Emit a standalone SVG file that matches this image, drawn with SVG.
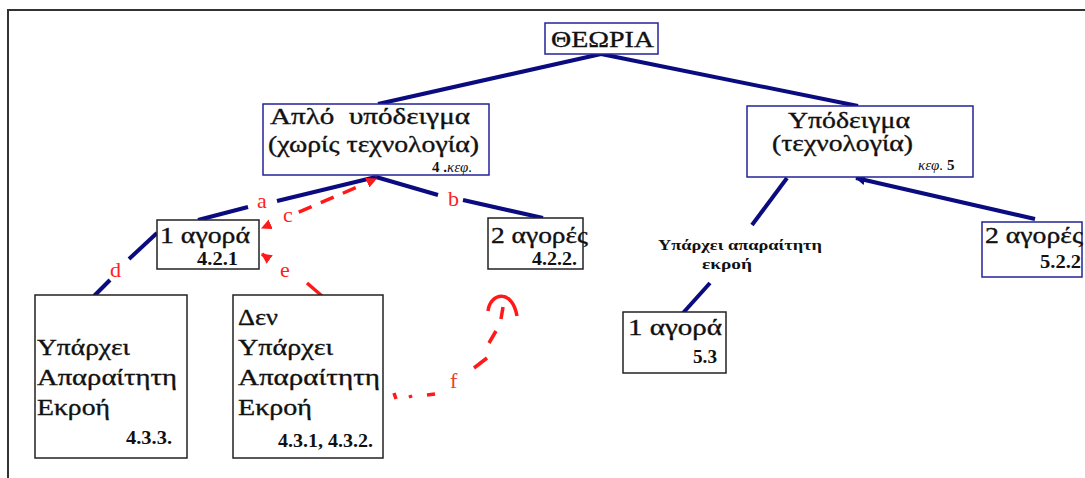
<svg xmlns="http://www.w3.org/2000/svg" width="1085" height="478" viewBox="0 0 1085 478">
  <style>
    .t { font-family: "Liberation Serif", "DejaVu Serif", serif; fill: #111; }
    .big { font-size: 23px; stroke: #111; stroke-width: 0.35; }
    .ref { font-size: 18px; font-weight: bold; }
    .small { font-size: 15px; font-weight: bold; }
    .lbl { font-family: "Liberation Serif", serif; font-size: 22px; fill: #ff2222; }
    .boxb { fill: #fff; stroke: #23239a; stroke-width: 1.5; }
    .boxk { fill: #fff; stroke: #222; stroke-width: 1.5; }
    .edge { stroke: #0b0b80; stroke-width: 4; fill: none; stroke-linecap: butt; }
    .red { stroke: #ff1a1a; stroke-width: 3.5; fill: none; }
  </style>
  <defs>
    <marker id="ah" viewBox="0 0 10 10" refX="9" refY="5" markerWidth="3" markerHeight="3" orient="auto-start-reverse">
      <path d="M0,0 L10,5 L0,10 z" fill="#ff1a1a"/>
    </marker>
    <marker id="ahn" viewBox="0 0 10 10" refX="9" refY="5" markerWidth="2.5" markerHeight="2.5" orient="auto">
      <path d="M0,0 L10,5 L0,10 z" fill="#0b0b80"/>
    </marker>
  </defs>

  <!-- page frame -->
  <rect x="8" y="10" width="1100" height="500" fill="#fff" stroke="#333" stroke-width="2"/>

  <!-- connectors -->
  <g id="connectors">
    <path class="edge" d="M601,54 L378,104"/>
    <path class="edge" d="M601,54 L858,106"/>
    <!-- a -->
    <path class="edge" d="M198,220 L248,207"/>
    <path class="edge" d="M277,201 L376,177"/>
    <!-- b -->
    <path class="edge" d="M376,177 L438,195"/>
    <path class="edge" d="M463,200 L543,218"/>
    <!-- d -->
    <path class="edge" d="M157,233 L129,259"/>
    <path class="edge" d="M110,280 L94,296"/>
    <!-- c -->
    <path class="red" d="M262,228 L376,179" stroke-dasharray="0 40 14 10 14 10 14 10" marker-start="url(#ah)" marker-end="url(#ah)"/>
    <!-- e -->
    <path class="red" d="M262,254 L269,259" marker-start="url(#ah)"/>
    <path class="red" d="M307,283 L322,296"/>
    <!-- f -->
    <path class="red" d="M394,393 L396,399 M410,395 L411,398"/>
    <path class="red" d="M427,395 L435,394" stroke-width="5"/>
    <path class="red" d="M474,368 L487,358" stroke-width="5"/>
    <path class="red" d="M489,343 L496,331" stroke-width="4.5"/>
    <path class="red" d="M501,319 L503,307" stroke-width="4"/>
    <path class="red" d="M488,311 C490,293 512,288 517,316" stroke-width="5"/>
    <!-- right branch -->
    <path class="edge" d="M787,178 L752,225"/>
    <path class="edge" d="M710,283 L683,313"/>
    <path class="edge" d="M1035,219 L856,178" marker-end="url(#ahn)"/>
  </g>

  <!-- edge labels -->
  <g id="edge-labels">
    <text class="lbl" x="257" y="208">a</text>
    <text class="lbl" x="448" y="206">b</text>
    <text class="lbl" x="283" y="222">c</text>
    <text class="lbl" x="110" y="277">d</text>
    <text class="lbl" x="280" y="277">e</text>
    <text class="lbl" x="450" y="388" style="fill:#e8402a">f</text>
  </g>

  <g id="theoria">
    <rect class="boxb" x="545" y="23" width="113" height="31"/>
    <text class="t big" x="551" y="47" textLength="103" lengthAdjust="spacingAndGlyphs">ΘΕΩΡΙΑ</text>
  </g>

  <g id="simple-model">
    <rect class="boxb" x="263" y="104" width="226" height="71"/>
    <text class="t big" x="270" y="124" textLength="200" lengthAdjust="spacingAndGlyphs" xml:space="preserve">Απλό  υπόδειγμα</text>
    <text class="t big" x="268" y="152" textLength="211" lengthAdjust="spacingAndGlyphs">(χωρίς τεχνολογία)</text>
    <text class="t" x="432" y="172" font-size="15"><tspan font-weight="bold">4 .</tspan><tspan font-style="italic">κεφ.</tspan></text>
  </g>

  <g id="tech-model">
    <rect class="boxb" x="747" y="106" width="226" height="71"/>
    <text class="t big" x="788" y="128" textLength="122" lengthAdjust="spacingAndGlyphs">Υπόδειγμα</text>
    <text class="t big" x="772" y="151" textLength="141" lengthAdjust="spacingAndGlyphs">(τεχνολογία)</text>
    <text class="t" x="918" y="170" font-size="15"><tspan font-style="italic">κεφ.</tspan> <tspan font-weight="bold">5</tspan></text>
  </g>

  <g id="one-market">
    <rect class="boxk" x="157" y="220" width="102" height="49"/>
    <text class="t big" x="160" y="243" textLength="90" lengthAdjust="spacingAndGlyphs">1 αγορά</text>
    <text class="t ref" x="197" y="265" textLength="41" lengthAdjust="spacingAndGlyphs">4.2.1</text>
  </g>

  <g id="two-markets">
    <rect class="boxk" x="488" y="218" width="95" height="51"/>
    <text class="t big" x="491" y="243" textLength="97" lengthAdjust="spacingAndGlyphs">2 αγορές</text>
    <text class="t ref" x="532" y="265" textLength="45" lengthAdjust="spacingAndGlyphs">4.2.2.</text>
  </g>

  <g id="output-exists">
    <rect class="boxk" x="35" y="295" width="152" height="163"/>
    <text class="t big" x="37" y="355" textLength="93" lengthAdjust="spacingAndGlyphs">Υπάρχει</text>
    <text class="t big" x="37" y="385" textLength="140" lengthAdjust="spacingAndGlyphs">Απαραίτητη</text>
    <text class="t big" x="37" y="415" textLength="73" lengthAdjust="spacingAndGlyphs">Εκροή</text>
    <text class="t ref" x="126" y="444" textLength="46" lengthAdjust="spacingAndGlyphs">4.3.3.</text>
  </g>

  <g id="no-output">
    <rect class="boxk" x="233" y="295" width="150" height="163"/>
    <text class="t big" x="238" y="325" textLength="40" lengthAdjust="spacingAndGlyphs">Δεν</text>
    <text class="t big" x="238" y="355" textLength="95" lengthAdjust="spacingAndGlyphs">Υπάρχει</text>
    <text class="t big" x="238" y="385" textLength="142" lengthAdjust="spacingAndGlyphs">Απαραίτητη</text>
    <text class="t big" x="238" y="415" textLength="74" lengthAdjust="spacingAndGlyphs">Εκροή</text>
    <text class="t ref" x="278" y="447" textLength="95" lengthAdjust="spacingAndGlyphs">4.3.1, 4.3.2.</text>
  </g>

  <g id="tech-output-label">
    <text class="t small" x="658" y="250" textLength="164" lengthAdjust="spacingAndGlyphs">Υπάρχει απαραίτητη</text>
    <text class="t small" x="702" y="269" textLength="50" lengthAdjust="spacingAndGlyphs">εκροή</text>
  </g>

  <g id="tech-one-market">
    <rect class="boxk" x="623" y="312" width="103" height="61"/>
    <text class="t big" x="628" y="335" textLength="94" lengthAdjust="spacingAndGlyphs">1 αγορά</text>
    <text class="t ref" x="693" y="363" textLength="24" lengthAdjust="spacingAndGlyphs">5.3</text>
  </g>

  <g id="tech-two-markets">
    <rect class="boxb" x="982" y="222" width="100" height="55"/>
    <text class="t big" x="985" y="243" textLength="98" lengthAdjust="spacingAndGlyphs">2 αγορές</text>
    <text class="t ref" x="1040" y="268" textLength="41" lengthAdjust="spacingAndGlyphs">5.2.2</text>
  </g>
</svg>
